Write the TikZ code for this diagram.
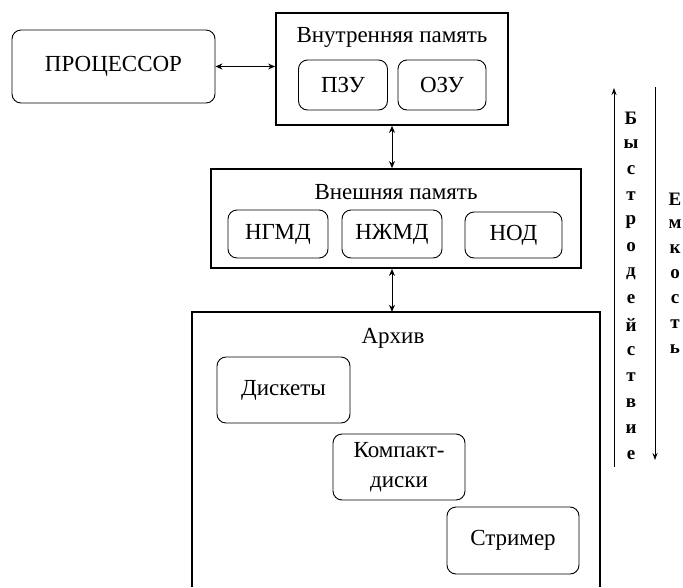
\documentclass[tikz,border=0pt]{standalone}
\usepackage{fontspec}
\setmainfont{Liberation Serif}
\usetikzlibrary{calc,arrows.meta}

\begin{document}
\begin{tikzpicture}[x=1pt, y=-1pt]
\tikzset{unitnode/.style={draw, rounded corners=9pt, line width=0.9pt, inner sep=0pt, align=center, font=\fontsize{23}{30}\selectfont},
framenode/.style={draw, line width=1.8pt, inner sep=0pt},
titlelabel/.style={font=\fontsize{23}{27}\selectfont},
sidelabel/.style={font=\bfseries\fontsize{19}{21}\selectfont},
biarrow/.style={{Stealth[length=7pt,width=6pt]}-{Stealth[length=7pt,width=6pt]}, line width=1pt},
sidearrow/.style={-{Stealth[length=7pt,width=5pt]}, line width=0.8pt}}

\useasboundingbox (0,0) rectangle (683,587);

\node (proc) [unitnode, minimum width=203pt, minimum height=73pt] at (113.5, 66.5) {ПРОЦЕССОР};

\node (inner) [framenode, minimum width=232pt, minimum height=112pt] at (392, 69) {};
\node (innertitle) [titlelabel] at (392, 37) {Внутренняя память};
\node (pzu) [unitnode, minimum width=89pt, minimum height=50pt] at (343, 85) {ПЗУ};
\node (ozu) [unitnode, minimum width=88pt, minimum height=50pt] at (442, 85) {ОЗУ};

\node (outer) [framenode, minimum width=370pt, minimum height=99pt] at (396, 218.5) {};
\node (outertitle) [titlelabel] at (396, 192) {Внешняя память};
\node (ngmd) [unitnode, minimum width=100pt, minimum height=48pt] at (278, 234) {НГМД};
\node (nzhmd) [unitnode, minimum width=100pt, minimum height=48pt] at (392, 234) {НЖМД};
\node (nod) [unitnode, minimum width=97pt, minimum height=46pt] at (513.5, 235) {НОД};

% archive runs off the bottom edge
\node (archive) [inner sep=0pt, minimum width=408pt, minimum height=275pt] at (396, 449.5) {};
\draw [line width=1.8pt] (archive.south west) |- (archive.north east) -- (archive.south east);
\node (archtitle) [titlelabel] at (393, 338) {Архив};
\node (disk) [unitnode, minimum width=133pt, minimum height=66pt] at (283.5, 390) {Дискеты};
\node (cd) [unitnode, minimum width=132pt, minimum height=66pt] at (399, 467) {Компакт-\\диски};
\node (strim) [unitnode, minimum width=132pt, minimum height=67pt] at (513, 540.5) {Стример};

%% Edges
\draw [biarrow] (proc.east) -- (proc.east -| inner.west);
\draw [biarrow] (inner.south) -- (inner.south |- outer.north);
\draw [biarrow] (outer.south -| inner.south) -- (archive.north -| inner.south);

%% Scales
\coordinate (speedlow) at (614, 467);
\coordinate (speedhigh) at (614, 88);
\coordinate (volhigh) at (655, 87);
\coordinate (vollow) at (655, 460);
\draw [sidearrow] (speedlow) -- (speedhigh);
\draw [sidearrow] (volhigh) -- (vollow);
\foreach \lab [count=\i from 0] in {Б,ы,с,т,р,о,д,е,й,с,т,в,и,е} \node (speed\i) [sidelabel] at (631, 118+25.9*\i) {\lab};
\foreach \lab [count=\i from 0] in {Е,м,к,о,с,т,ь} \node (vol\i) [sidelabel] at (675, 199+25*\i) {\lab};

\end{tikzpicture}
\end{document}
